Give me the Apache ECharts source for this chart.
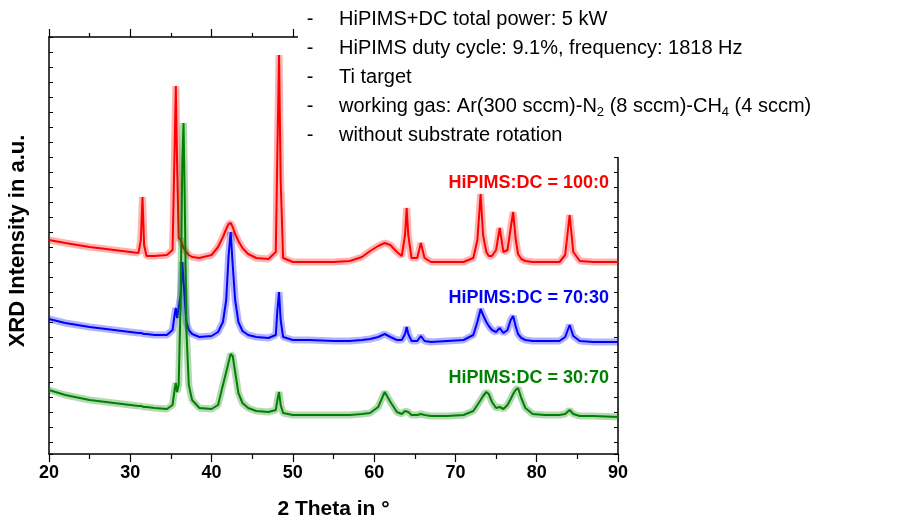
<!DOCTYPE html>
<html>
<head>
<meta charset="utf-8">
<script src="https://cdn.jsdelivr.net/npm/echarts@6/dist/echarts.min.js"></script>
<style>
  html, body { margin: 0; padding: 0; background: #fff; }
  #xrdChart { width: 912px; height: 521px; }
</style>
</head>
<body>
<div id="xrdChart"></div>
<script>
// 2 Theta grid in degrees, shared by the three patterns
var twoTheta = [
  20, 22, 25, 28, 30, 31, 31.3, 31.5, 31.7, 32,
  33, 34.5, 35.2, 35.45, 35.6, 35.75, 35.95, 36.2, 36.4, 36.55,
  36.7, 36.9, 37.2, 37.6, 38.5, 40, 40.8, 41.4, 41.8, 42.1,
  42.35, 42.6, 42.9, 43.3, 43.8, 44.5, 45.5, 47, 47.9, 48.1,
  48.3, 48.5, 48.8, 50, 52, 55, 57, 58.5, 59.5, 60.5,
  61.3, 62, 62.8, 63.4, 63.8, 64.0, 64.2, 64.6, 65.3, 65.75,
  66.2, 67, 69, 71, 72.2, 72.7, 73.1, 73.4, 73.8, 74.1,
  74.5, 75.0, 75.45, 75.9, 76.4, 76.8, 77.1, 77.4, 77.7, 78.1,
  78.6, 79.5, 81, 82.8, 83.5, 84.05, 84.5, 85.3, 87, 90
];

// XRD intensity (a.u., patterns already stacked with offsets)
var hipims100 = [
  214, 211, 207, 204, 202, 201, 214, 257, 209, 198,
  198, 199, 204, 304, 368, 294, 216, 214, 210, 206,
  204, 202, 199, 197, 196, 199, 207, 217, 225, 230,
  231, 227, 220, 213, 206, 200, 196, 195, 202, 304,
  399, 274, 196, 192, 192, 192, 193, 197, 203, 208,
  211, 209, 202, 198, 219, 246, 219, 196, 196, 211,
  196, 192, 192, 192, 196, 214, 260, 219, 202, 198,
  198, 204, 226, 202, 204, 226, 242, 216, 200, 195,
  193, 192, 192, 192, 199, 239, 202, 193, 192, 192
];
var hipims70 = [
  135, 131, 127, 124, 122, 121, 121, 121, 120, 120,
  119, 119, 124, 139, 146, 136, 134, 159, 192, 192,
  154, 132, 124, 120, 117, 118, 122, 132, 154, 199,
  222, 189, 154, 132, 123, 119, 117, 116, 119, 144,
  162, 134, 117, 114, 114, 113, 113, 114, 115, 117,
  120, 117, 114, 114, 120, 127, 120, 113, 113, 118,
  113, 112, 113, 114, 119, 132, 145, 139, 132, 128,
  124, 122, 126, 121, 124, 134, 138, 128, 120, 116,
  114, 113, 113, 113, 117, 129, 118, 113, 112, 112
];
var hipims30 = [
  64, 59, 54, 51, 49, 48, 48, 48, 47, 47,
  46, 45, 49, 64, 71, 62, 69, 154, 294, 331,
  254, 124, 69, 54, 46, 45, 49, 69, 82, 92,
  100, 98, 82, 61, 51, 46, 43, 42, 44, 54,
  62, 49, 41, 39, 39, 39, 39, 40, 41, 47,
  62, 52, 42, 40, 43, 45, 42, 39, 39, 40,
  39, 38, 38, 39, 43, 49, 54, 58, 62, 60,
  52, 46, 47, 45, 49, 55, 60, 64, 66, 56,
  46, 40, 39, 39, 40, 44, 40, 38, 38, 37
];

var sampleNames = ['HiPIMS:DC = 100:0', 'HiPIMS:DC = 70:30', 'HiPIMS:DC = 30:70'];
var sampleColors = ['#ff0000', '#0000ff', '#008000'];

var notes = [
  '{t|HiPIMS+DC total power: 5 kW}',
  '{t|HiPIMS duty cycle: 9.1%, frequency: 1818 Hz}',
  '{t|Ti target}',
  '{t|working gas: Ar(300 sccm)-N}{s|2}{t| (8 sccm)-CH}{s|4}{t| (4 sccm)}',
  '{t|without substrate rotation}'
];

var FONT = '"Liberation Sans", Arial, sans-serif';

function pairs(ys) {
  return twoTheta.map(function (x, i) { return [x, ys[i]]; });
}

var chart = echarts.init(document.getElementById('xrdChart'));

var patterns = [hipims100, hipims70, hipims30];
var series = [];
patterns.forEach(function (ys, i) {
  // wide pale stroke gives the noisy band look
  series.push({
    type: 'line', data: pairs(ys), showSymbol: false, silent: true,
    lineStyle: { color: sampleColors[i], width: 7, opacity: 0.3 },
    z: 2 + i * 2
  });
  series.push({
    type: 'line', data: pairs(ys), showSymbol: false,
    name: sampleNames[i],
    lineStyle: { color: sampleColors[i], width: 2 },
    z: 3 + i * 2
  });
});

var graphics = [
  { type: 'rect', left: 298, top: 0, shape: { width: 614, height: 157 }, style: { fill: '#fff' }, z: 100 }
];
var noteY = [19, 48, 77, 106, 135];
notes.forEach(function (txt, i) {
  graphics.push({
    type: 'text', x: 310, y: noteY[i], z: 101,
    style: { text: '-', font: '20px ' + FONT, fill: '#000', align: 'center', verticalAlign: 'middle' }
  });
  graphics.push({
    type: 'text', x: 339, y: noteY[i], z: 101,
    style: {
      text: txt, fill: '#000', align: 'left', verticalAlign: 'middle',
      rich: {
        t: { fontFamily: FONT, fontSize: 20, lineHeight: 24, fill: '#000' },
        s: { fontFamily: FONT, fontSize: 13, lineHeight: 24, fill: '#000', padding: [12, 0, 0, 0] }
      }
    }
  });
});
var labelY = [183, 298, 378];
sampleNames.forEach(function (name, i) {
  graphics.push({
    type: 'text', x: 609, y: labelY[i], z: 101,
    style: { text: name, font: 'bold 18px ' + FONT, fill: sampleColors[i], align: 'right', verticalAlign: 'middle' }
  });
});
graphics.push({
  type: 'text', x: 18, y: 241, rotation: Math.PI / 2, z: 101,
  style: { text: 'XRD Intensity in a.u.', font: 'bold 22px ' + FONT, fill: '#000', align: 'center', verticalAlign: 'middle' }
});

var frameAxis = {
  type: 'value', min: 0, max: 417, interval: 15, inverse: true,
  axisLine: { show: true, lineStyle: { color: '#000', width: 1.5 } },
  axisTick: { show: true, inside: true, length: 4, lineStyle: { color: '#000' } },
  axisLabel: { show: false },
  splitLine: { show: false }
};

var option = {
  animation: false,
  backgroundColor: '#fff',
  grid: { left: 49, top: 37, width: 569, height: 417, outerBoundsMode: 'none', containLabel: false },
  xAxis: [{
    type: 'value', min: 20, max: 90, interval: 10, position: 'bottom',
    name: '2 Theta in °', nameLocation: 'middle', nameGap: 45,
    nameTextStyle: { fontFamily: FONT, fontWeight: 'bold', fontSize: 21, color: '#000' },
    axisLine: { lineStyle: { color: '#000', width: 1.5 } },
    axisTick: { length: 8, lineStyle: { color: '#000', width: 1.2 } },
    minorTick: { show: true, splitNumber: 2, length: 5, lineStyle: { color: '#000', width: 1.2 } },
    axisLabel: { fontFamily: FONT, fontWeight: 'bold', fontSize: 18, color: '#000', margin: 10 },
    splitLine: { show: false }
  }, {
    type: 'value', min: 20, max: 90, interval: 10, position: 'top',
    axisLine: { lineStyle: { color: '#000', width: 1.5 } },
    axisTick: { length: 8, lineStyle: { color: '#000', width: 1.2 } },
    minorTick: { show: true, splitNumber: 2, length: 4, lineStyle: { color: '#000', width: 1.2 } },
    axisLabel: { show: false },
    splitLine: { show: false }
  }],
  yAxis: [
    { type: 'value', min: 0, max: 417, show: false, splitLine: { show: false } },
    Object.assign({ position: 'left' }, frameAxis),
    Object.assign({ position: 'right' }, frameAxis)
  ],
  series: series,
  graphic: graphics
};

chart.setOption(option);
</script>
</body>
</html>
